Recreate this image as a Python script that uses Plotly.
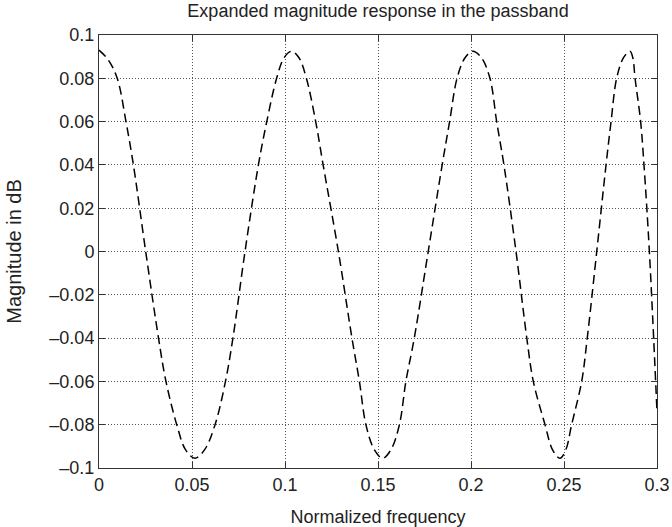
import plotly.graph_objects as go

# Values
freq = [0.0, 0.005, 0.0098, 0.0145, 0.0185, 0.0251, 0.032, 0.036, 0.0418, 0.0465, 0.0516,
        0.0568, 0.0624, 0.068, 0.072, 0.0785, 0.0857, 0.0902, 0.0955, 0.0995, 0.1036, 0.1075,
        0.1115, 0.1165, 0.1205, 0.1287, 0.136, 0.140, 0.1435, 0.148, 0.1525, 0.157, 0.1615,
        0.165, 0.1695, 0.1770, 0.1845, 0.1885, 0.1925, 0.1968, 0.2010, 0.2056, 0.2102, 0.2138,
        0.2177, 0.2242, 0.2300, 0.2335, 0.2398, 0.2438, 0.2478, 0.2510, 0.2541, 0.2595,
        0.2625, 0.2676, 0.2726, 0.2753, 0.2783, 0.2820, 0.2855, 0.2870, 0.2882, 0.2912,
        0.2930, 0.2959, 0.3]
mag_db = [0.0930, 0.0885, 0.08, 0.06, 0.04, 0.0, -0.04, -0.06, -0.08, -0.0915, -0.0955,
          -0.0915, -0.08, -0.06, -0.04, 0.0, 0.04, 0.06, 0.08, 0.0895, 0.0925, 0.0895,
          0.08, 0.06, 0.04, 0.0, -0.04, -0.06, -0.08, -0.0915, -0.0955, -0.0915, -0.08,
          -0.06, -0.04, 0.0, 0.04, 0.06, 0.08, 0.0895, 0.0925, 0.0895, 0.08, 0.06,
          0.04, 0.0, -0.04, -0.06, -0.08, -0.0915, -0.0955, -0.0915, -0.08, -0.06,
          -0.04, 0.0, 0.04, 0.06, 0.08, 0.0895, 0.0925, 0.0895, 0.08, 0.06,
          0.04, 0.0, -0.074]

x_ticks = [0, 0.05, 0.1, 0.15, 0.2, 0.25, 0.3]
x_tick_labels = ["0", "0.05", "0.1", "0.15", "0.2", "0.25", "0.3"]
y_ticks = [0.1, 0.08, 0.06, 0.04, 0.02, 0, -0.02, -0.04, -0.06, -0.08, -0.1]
y_tick_labels = ["0.1", "0.08", "0.06", "0.04", "0.02", "0", "\u20130.02", "\u20130.04",
                 "\u20130.06", "\u20130.08", "\u20130.1"]

title_text = "Expanded magnitude response in the passband"
x_title = "Normalized frequency"
y_title = "Magnitude in dB"

font_family = "Liberation Sans, Arial, Helvetica, sans-serif"
axis_color = "#333333"
text_color = "#222222"
fs = 18

fig = go.Figure()
fig.add_trace(go.Scatter(
    x=freq, y=mag_db, mode="lines",
    line=dict(color="black", width=1.5, dash="9px,5px", shape="spline", smoothing=1),
    showlegend=False, hoverinfo="skip",
))

axis_common = dict(
    showline=True, linecolor=axis_color, linewidth=1, mirror="ticks",
    ticks="inside", ticklen=6, tickcolor=axis_color, tickwidth=1,
    showgrid=True, gridcolor="#555555", griddash="1px,2px", gridwidth=1,
    zeroline=False, automargin=False,
    tickfont=dict(size=fs, color=text_color, family=font_family),
)

fig.update_xaxes(range=[0, 0.3], tickvals=x_ticks, ticktext=x_tick_labels,
                 title=dict(text=x_title, font=dict(size=fs, color=text_color), standoff=16),
                 **axis_common)
fig.update_yaxes(range=[-0.1, 0.1], tickvals=y_ticks, ticktext=y_tick_labels,
                 title=dict(text=y_title, font=dict(size=20, color=text_color), standoff=22),
                 **axis_common)

fig.update_layout(
    width=672, height=527,
    margin=dict(l=99, r=15, t=35, b=59, autoexpand=False),
    paper_bgcolor="white", plot_bgcolor="white",
    font=dict(family=font_family, size=fs, color=text_color),
    title=dict(text=title_text, x=0.5, xref="paper", xanchor="center",
               y=1 - 11 / 527, yref="container", yanchor="middle",
               font=dict(size=fs, color=text_color)),
)

fig.write_html("out.html", config={"displayModeBar": False},
               post_script="document.body.style.margin='0';")
